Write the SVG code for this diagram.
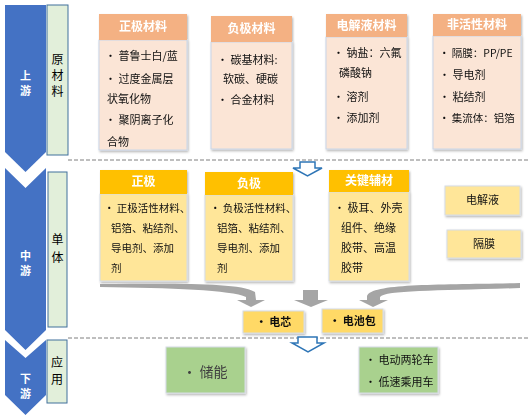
<svg xmlns="http://www.w3.org/2000/svg" width="528" height="418" viewBox="0 0 528 418">
<style>
text{font-family:"Noto Sans CJK SC","Noto Sans",sans-serif;}
.chev{fill:#4472C4;}
.ct{fill:#fff;font-size:11px;font-weight:bold;text-anchor:middle;}
.lab{fill:#E2EFDA;stroke:#41719C;stroke-width:1;}
.lt{fill:#000;font-size:12px;text-anchor:middle;}
.ph{fill:#F4B183;}
.pb{fill:#FBE5D6;stroke:#C9D6E8;stroke-width:1;}
.yh{fill:#FFC000;}
.yb{fill:#FFE699;stroke:#D6DCE5;stroke-width:1;}
.ht{fill:#fff;font-size:12px;font-weight:bold;text-anchor:middle;}
.bt{fill:#111;font-size:11px;}
.mt{fill:#111;font-size:10.5px;}
.cell{fill:#FFD966;stroke:#D6DCE5;stroke-width:1;}
.gb{fill:#A9D18E;stroke:#D6DCE5;stroke-width:1;}
.dash{stroke:#7F7F7F;stroke-width:1;stroke-dasharray:4 2;fill:none;}
.garr{fill:#A5A5A5;}
.barr{fill:#fff;stroke:#2E75B6;stroke-width:1.5;stroke-linejoin:miter;}
</style>
<defs>
<filter id="sh" x="-10%" y="-10%" width="125%" height="130%">
<feDropShadow dx="1" dy="1.5" stdDeviation="1" flood-color="#000" flood-opacity="0.3"/>
</filter>
</defs>
<rect width="528" height="418" fill="#fff"/>

<!-- stage chevrons -->
<g id="stage-up">
<path class="chev" d="M5,5 L46,5 L46,152 L25.5,172 L5,152 Z"/>
<text class="ct" x="25.5" y="80">上</text>
<text class="ct" x="25.5" y="95">游</text>
</g>
<g id="stage-mid">
<path class="chev" d="M5,168 L25.5,188 L46,168 L46,330 L25.5,350 L5,330 Z"/>
<text class="ct" x="25.5" y="260">中</text>
<text class="ct" x="25.5" y="275">游</text>
</g>
<g id="stage-down">
<path class="chev" d="M5,340 L25.5,358 L46,340 L46,395 L25.5,415 L5,395 Z"/>
<text class="ct" x="25.5" y="383">下</text>
<text class="ct" x="25.5" y="398">游</text>
</g>

<!-- category labels -->
<g id="label-raw">
<rect class="lab" x="47" y="5" width="21" height="150"/>
<text class="lt" x="57.5" y="64">原</text>
<text class="lt" x="57.5" y="80">材</text>
<text class="lt" x="57.5" y="96">料</text>
</g>
<g id="label-cell">
<rect class="lab" x="48" y="172" width="19" height="155"/>
<text class="lt" x="57.5" y="244">单</text>
<text class="lt" x="57.5" y="262">体</text>
</g>
<g id="label-app">
<rect class="lab" x="47" y="340" width="20" height="63"/>
<text class="lt" x="57" y="367">应</text>
<text class="lt" x="57" y="384">用</text>
</g>

<!-- separators -->
<line class="dash" x1="68" y1="160" x2="528" y2="160"/>
<line class="dash" x1="68" y1="338" x2="528" y2="338"/>

<!-- upstream materials -->
<g id="cathode-material" filter="url(#sh)">
<rect class="pb" x="99" y="40" width="88" height="110"/>
<rect class="ph" x="99" y="14" width="88" height="26"/>
<text class="ht" x="143" y="31">正极材料</text>
<text class="bt" x="105" y="60">• 普鲁士白/蓝</text>
<text class="bt" x="105" y="83">• 过度金属层</text>
<text class="bt" x="107" y="103">状氧化物</text>
<text class="bt" x="105" y="124">• 聚阴离子化</text>
<text class="bt" x="107" y="146">合物</text>
</g>
<g id="anode-material" filter="url(#sh)">
<rect class="pb" x="211" y="42" width="81" height="107"/>
<rect class="ph" x="211" y="16" width="81" height="26"/>
<text class="ht" x="251.5" y="33">负极材料</text>
<text class="bt" x="217" y="64">• 碳基材料:</text>
<text class="bt" x="223" y="83">软碳、硬碳</text>
<text class="bt" x="217" y="104">• 合金材料</text>
</g>
<g id="electrolyte-material" filter="url(#sh)">
<rect class="pb" x="326" y="37" width="81" height="112"/>
<rect class="ph" x="326" y="14" width="81" height="23"/>
<text class="ht" x="366.5" y="30">电解液材料</text>
<text class="bt" x="333" y="57">• 钠盐：六氟</text>
<text class="bt" x="339" y="77">磷酸钠</text>
<text class="bt" x="333" y="101">• 溶剂</text>
<text class="bt" x="333" y="122">• 添加剂</text>
</g>
<g id="inactive-material" filter="url(#sh)">
<rect class="pb" x="433" y="36" width="88" height="113"/>
<rect class="ph" x="433" y="14" width="88" height="22"/>
<text class="ht" x="477" y="29">非活性材料</text>
<text class="mt" x="439" y="57">• 隔膜：PP/PE</text>
<text class="bt" x="439" y="79">• 导电剂</text>
<text class="bt" x="439" y="101">• 粘结剂</text>
<text class="mt" x="439" y="122">• 集流体：铝箔</text>
</g>

<!-- midstream -->
<g id="cathode" filter="url(#sh)">
<rect class="yb" x="100" y="194" width="87" height="87"/>
<rect class="yh" x="100" y="170" width="87" height="24"/>
<text class="ht" x="143.5" y="186">正极</text>
<text class="mt" x="104" y="212">• 正极活性材料、</text>
<text class="mt" x="111" y="232">铝箔、粘结剂、</text>
<text class="mt" x="111" y="252">导电剂、添加</text>
<text class="mt" x="111" y="272">剂</text>
</g>
<g id="anode" filter="url(#sh)">
<rect class="yb" x="205" y="195" width="88" height="86"/>
<rect class="yh" x="205" y="172" width="88" height="23"/>
<text class="ht" x="249" y="188">负极</text>
<text class="mt" x="210" y="212">• 负极活性材料、</text>
<text class="mt" x="217" y="232">铝箔、粘结剂、</text>
<text class="mt" x="217" y="252">导电剂、添加</text>
<text class="mt" x="217" y="272">剂</text>
</g>
<g id="key-aux" filter="url(#sh)">
<rect class="yb" x="329" y="192" width="80" height="89"/>
<rect class="yh" x="329" y="170" width="80" height="22"/>
<text class="ht" x="369" y="185">关键辅材</text>
<text class="bt" x="334" y="212">• 极耳、外壳</text>
<text class="bt" x="341" y="232">组件、绝缘</text>
<text class="bt" x="341" y="252">胶带、高温</text>
<text class="bt" x="341" y="272">胶带</text>
</g>
<g id="electrolyte" filter="url(#sh)">
<rect class="yb" x="445" y="186" width="75" height="29"/>
<text class="bt" x="482.5" y="204" text-anchor="middle" font-size="12">电解液</text>
</g>
<g id="separator" filter="url(#sh)">
<rect class="yb" x="447" y="230" width="74" height="28"/>
<text class="bt" x="484" y="248" text-anchor="middle" font-size="12">隔膜</text>
</g>
<g id="cell" filter="url(#sh)">
<rect class="cell" x="243" y="311" width="61" height="22"/>
<text class="bt" x="273.5" y="326" text-anchor="middle" font-weight="bold">• 电芯</text>
</g>
<g id="pack" filter="url(#sh)">
<rect class="cell" x="322" y="309" width="61" height="24"/>
<text class="bt" x="352.5" y="325" text-anchor="middle" font-weight="bold">• 电池包</text>
</g>

<!-- downstream -->
<g id="storage" filter="url(#sh)">
<rect class="gb" x="166" y="347" width="79" height="46"/>
<text x="205" y="377" font-size="14" fill="#404040" text-anchor="middle">• 储能</text>
</g>
<g id="vehicles" filter="url(#sh)">
<rect class="gb" x="359" y="347" width="79" height="46"/>
<text class="bt" x="365" y="364">• 电动两轮车</text>
<text class="bt" x="365" y="386">• 低速乘用车</text>
</g>

<!-- connectors -->
<g id="connectors">
<path class="garr" d="M100,284 C170,284 238,282 255,292 L256,300 L265,300 L251,307 L237,300 L246,300 L246,297 C232,290 170,288 100,287 Z"/>
<path class="garr" d="M303,290 L318,290 L318,300 L328,300 L311,307 L294,300 L303,300 Z"/>
<path class="garr" d="M520,283 C440,285 372,283 367,296 L367,300 L359,300 L373,307 L388,300 L380,300 L380,297 C386,290 440,291 520,288 Z"/>
<path class="barr" d="M300,162 L315,162 L315,168 L322,168 L307.5,176 L293,168 L300,168 Z"/>
<path class="barr" d="M298,337 L317,337 L317,343 L324,343 L308,352 L292,343 L298,343 Z"/>
</g>
</svg>
